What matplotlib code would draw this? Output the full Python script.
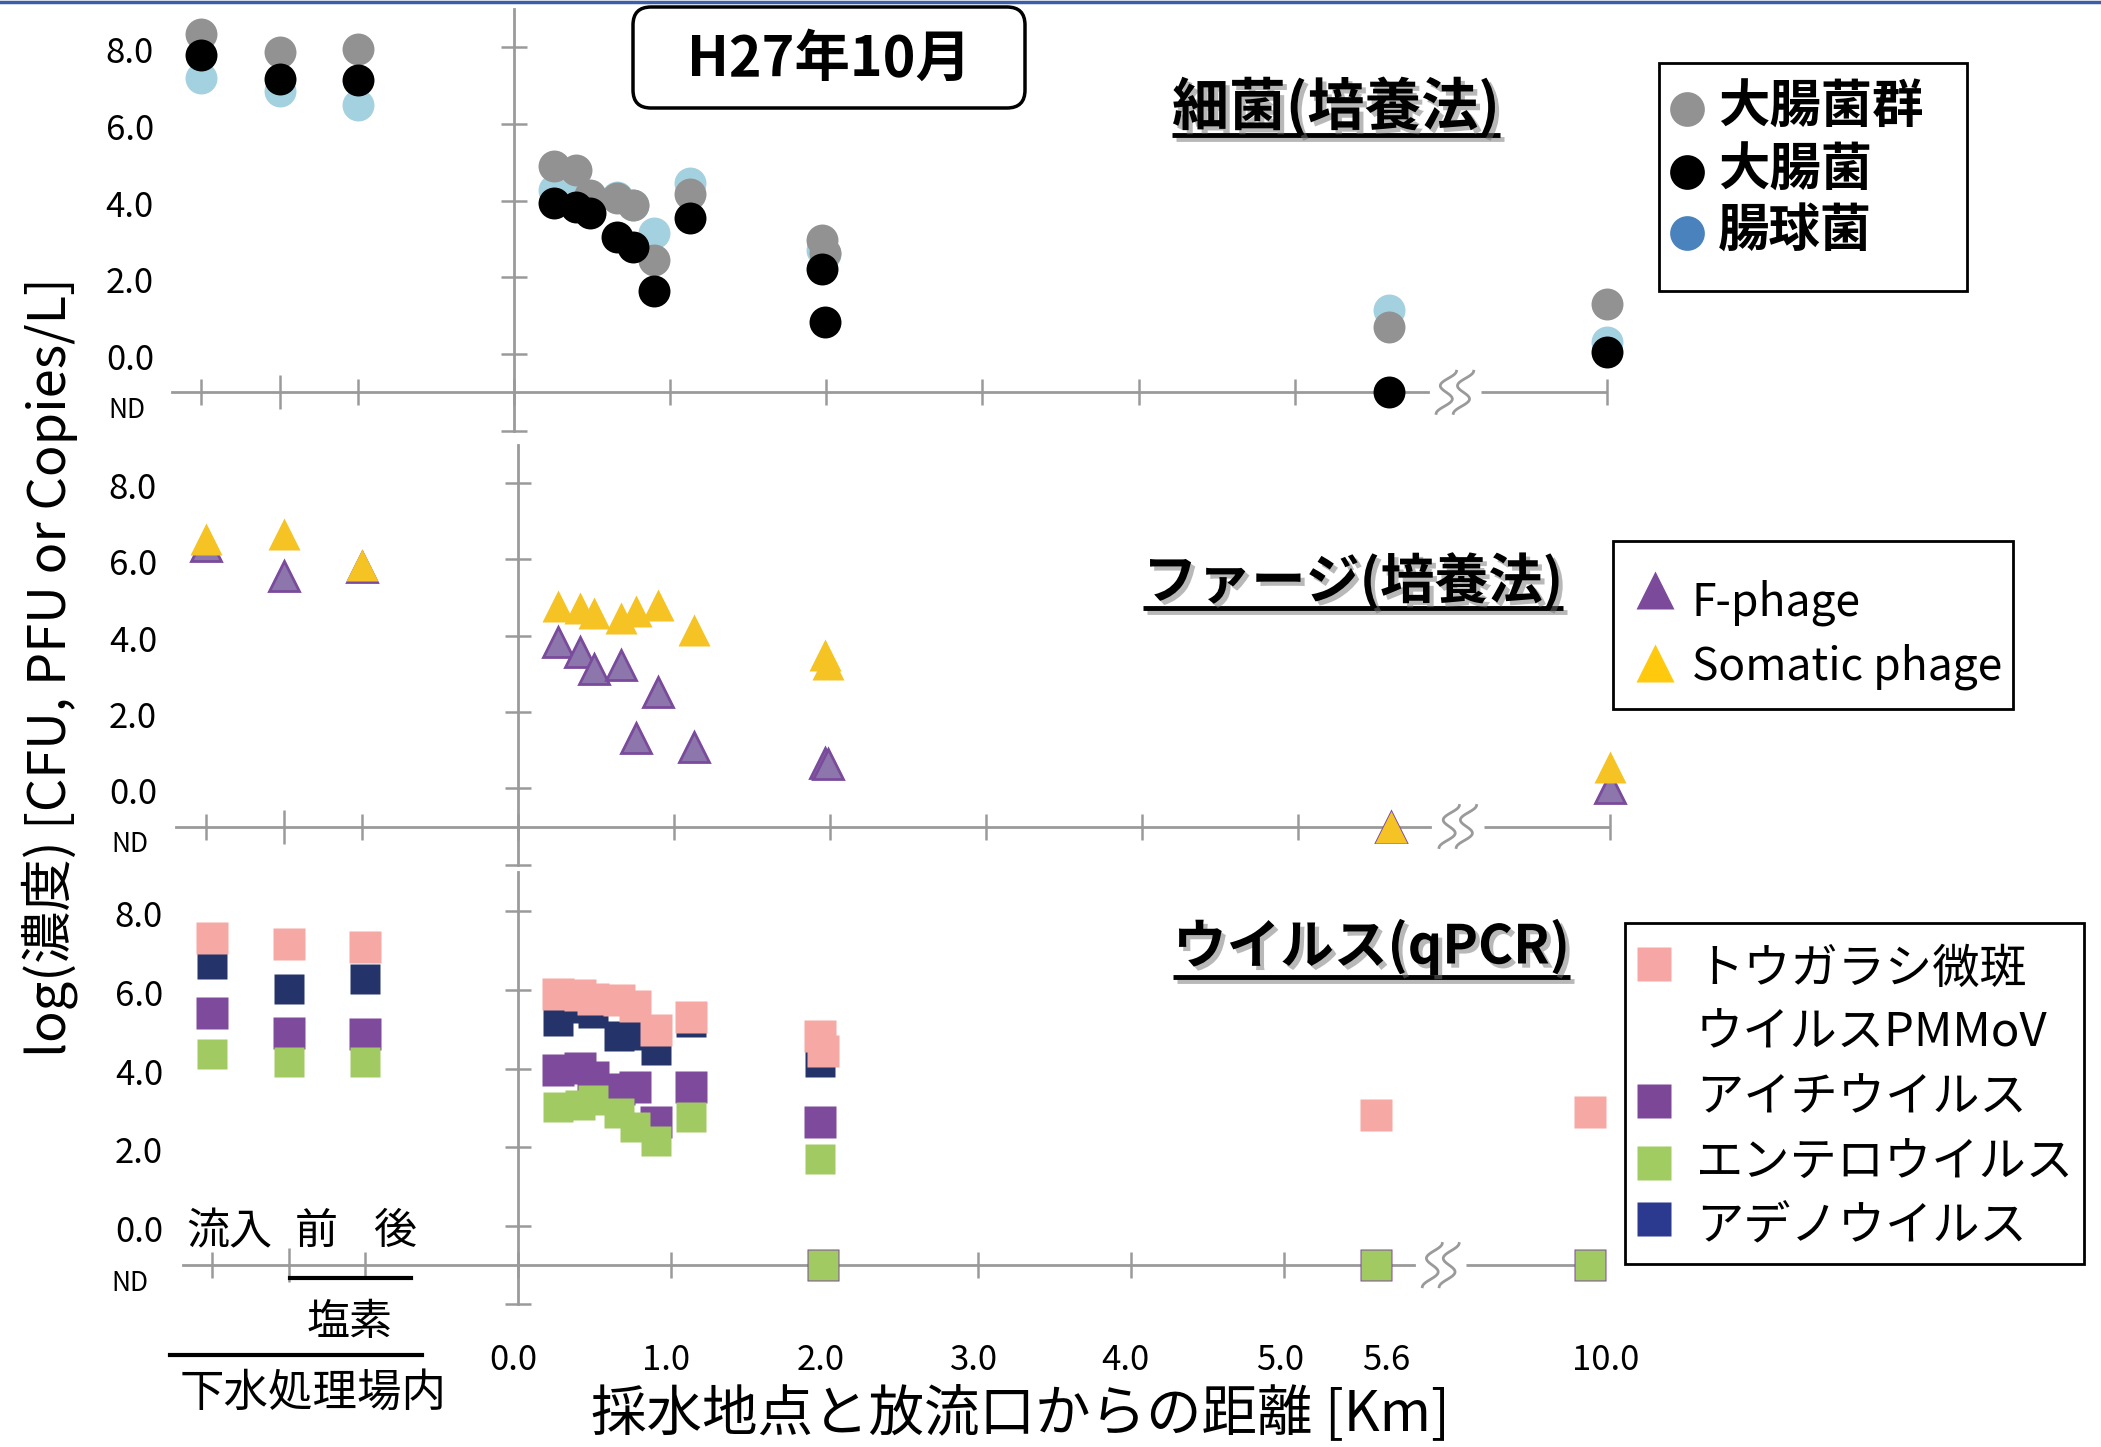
import numpy as np
import matplotlib
matplotlib.use("Agg")
import matplotlib.pyplot as plt
import matplotlib.patheffects as pe
from matplotlib.patches import FancyBboxPatch, Rectangle
from matplotlib.ticker import FixedLocator
from matplotlib.transforms import blended_transform_factory, ScaledTranslation

plt.rcParams["font.family"] = ["Noto Sans CJK JP", "DejaVu Sans"]

ND = "ND"

# ---- data (log10 values) ----
PLANT_LABELS = ["流入", "前", "後"]
SITE_KM = [0.26, 0.40, 0.49, 0.66, 0.76, 0.90, 1.13, 1.97, 1.99, 5.6, 10.0]
X_TICK_KM = [0.0, 1.0, 2.0, 3.0, 4.0, 5.0, 5.6, 10.0]
Y_TICKS = [0, 2, 4, 6, 8]

# bacteria (culture)
COLIFORM_PLANT = [8.34, 7.89, 7.95]
COLIFORM_SITE = [4.90, 4.80, 4.15, 4.06, 3.89, 2.45, 4.17, 2.97, 2.63, 0.70, 1.30]
ECOLI_PLANT = [7.80, 7.18, 7.15]
ECOLI_SITE = [3.95, 3.84, 3.69, 3.06, 2.80, 1.65, 3.56, 2.21, 0.84, ND, 0.04]
ENTEROCOC_PLANT = [7.21, 6.87, 6.49]
ENTEROCOC_SITE = [4.28, 4.30, 4.05, 4.10, 3.90, 3.15, 4.45, 2.71, 2.60, 1.16, 0.32]

# phage (culture)
FPHAGE_PLANT = [6.35, 5.55, 5.80]
FPHAGE_SITE = [3.83, 3.57, 3.12, 3.22, 1.32, 2.52, 1.07, 0.67, 0.63, ND, 0.00]
SOMATIC_PLANT = [6.52, 6.65, 5.84]
SOMATIC_SITE = [4.76, 4.72, 4.59, 4.46, 4.65, 4.81, 4.14, 3.48, 3.26, ND, 0.57]

# virus (qPCR)
PMMOV_PLANT = [7.32, 7.17, 7.10]
PMMOV_SITE = [5.89, 5.88, 5.77, 5.75, 5.60, 4.97, 5.32, 4.82, 4.45, 2.81, 2.90]
AICHI_PLANT = [5.41, 4.91, 4.88]
AICHI_SITE = [3.96, 4.01, 3.78, 3.48, 3.54, 2.65, 3.54, 2.65, ND, ND, ND]
ENTV_PLANT = [4.38, 4.18, 4.18]
ENTV_SITE = [3.03, 3.07, 3.19, 2.86, 2.52, 2.15, 2.77, 1.69, ND, ND, ND]
ADENO_PLANT = [6.65, 6.03, 6.28]
ADENO_SITE = [5.20, 5.55, 5.41, 4.83, 4.85, 4.48, 5.19, 4.18, ND, ND, ND]

# ---- layout ----
W, H = 2101, 1447
PLANT_X = [-2.0, -1.5, -1.0]
ND_Y = -1.0
XLIM = (-2.4, 7.3)
YLIM = (-2.3, 9.2)
AXIS_GRAY = "#9a9a9a"
# small horizontal nudges (px) of the distance labels under the bottom axis
X_LABEL_NUDGE = [-5, -5, -4, -4, -5, -4, 11, 16]


def km_to_x(km):
    # broken axis: linear up to 5.6 km, then a gap up to 10 km
    return np.interp(km, [0.0, 5.6, 10.0], [0.0, 5.6, 7.0])


fig = plt.figure(figsize=(W / 100, H / 100), dpi=100)
fig.patch.set_facecolor("white")


def make_panel(x0, ux, y0, uy):
    left = x0 + XLIM[0] * ux
    right = x0 + XLIM[1] * ux
    top = y0 - YLIM[1] * uy
    bottom = y0 - YLIM[0] * uy
    ax = fig.add_axes([left / W, 1 - bottom / H, (right - left) / W, (bottom - top) / H])
    ax.set_xlim(*XLIM)
    ax.set_ylim(*YLIM)
    ax.patch.set_visible(False)
    ax.spines["top"].set_visible(False)
    ax.spines["right"].set_visible(False)
    ax.spines["left"].set_position(("data", 0))
    ax.spines["left"].set_bounds(-2, 9)
    ax.spines["bottom"].set_position(("data", ND_Y))
    ax.spines["bottom"].set_bounds(-2.19, 5.85)
    for s in ("left", "bottom"):
        ax.spines[s].set_color(AXIS_GRAY)
        ax.spines[s].set_linewidth(2)
    ax.set_yticks([-2] + Y_TICKS)
    ax.set_xticks([-2, -1, 0, 1, 2, 3, 4, 5, 7])
    ax.xaxis.set_minor_locator(FixedLocator([-1.5]))
    ax.tick_params(which="major", direction="inout", length=18.5, width=1.8,
                   color=AXIS_GRAY, labelleft=False, labelbottom=False)
    ax.tick_params(axis="x", which="minor", direction="inout", length=24.5,
                   width=1.8, color=AXIS_GRAY)
    ax.plot([6.19, 7.0], [ND_Y, ND_Y], color=AXIS_GRAY, lw=2,
            solid_capstyle="butt", zorder=2)
    # break mark: two wavy strokes
    t = np.linspace(-1, 1, 60)
    for xc in (5.97, 6.08):
        ax.plot(xc + 0.045 * np.cos(1.5 * np.pi * (1 - t)) + 0.02 * t,
                ND_Y + 0.55 * t, color=AXIS_GRAY, lw=2, zorder=2)
    return ax


def plot_series(ax, plant, site, **style):
    x = PLANT_X + list(km_to_x(SITE_KM))
    y = [ND_Y if v == ND else v for v in plant + site]
    ax.plot(x, y, linestyle="none", zorder=3, **style)


def label_panel(ax, right_px, nd_right_px):
    tr = blended_transform_factory(fig.transFigure, ax.transData)
    tr_num = tr + ScaledTranslation(0, -6.5 / 100, fig.dpi_scale_trans)
    for v in Y_TICKS:
        fig.text(right_px / W, v, f"{v:.1f}", transform=tr_num, ha="right",
                 va="center", fontsize=25)
    fig.text(nd_right_px / W, -1.47, "ND", transform=tr, ha="right",
             va="center", fontsize=19)


ax_b = make_panel(513.8, 156.2, 354.0, 38.33)
ax_p = make_panel(517.9, 156.0, 788.3, 38.2)
ax_v = make_panel(518.3, 153.1, 1225.8, 39.3)

# bacteria
plot_series(ax_b, ENTEROCOC_PLANT, ENTEROCOC_SITE, marker="o", ms=23,
            color="#a3d1df", mec="none")
plot_series(ax_b, COLIFORM_PLANT, COLIFORM_SITE, marker="o", ms=23,
            color="#929292", mec="none")
plot_series(ax_b, ECOLI_PLANT, ECOLI_SITE, marker="o", ms=23,
            color="#000000", mec="none")

# phage
plot_series(ax_p, FPHAGE_PLANT, FPHAGE_SITE, marker="^", ms=22,
            mfc="#8d76ac", mec="#7a4b9c", mew=2)
plot_series(ax_p, SOMATIC_PLANT, SOMATIC_SITE, marker="^", ms=23,
            color="#f6c325", mec="none")

# virus
plot_series(ax_v, ADENO_PLANT, ADENO_SITE, marker="s", ms=21,
            color="#24346a", mec="none")
plot_series(ax_v, PMMOV_PLANT, PMMOV_SITE, marker="s", ms=23,
            color="#f6a8a4", mec="none")
plot_series(ax_v, AICHI_PLANT, AICHI_SITE, marker="s", ms=23,
            color="#7e4a9b", mec="none")
plot_series(ax_v, ENTV_PLANT, ENTV_SITE, marker="s", ms=21,
            color="#a1cb62", mec="none")

label_panel(ax_b, 154, 145)
label_panel(ax_p, 157, 148)
label_panel(ax_v, 163, 148)

tr_x = blended_transform_factory(ax_v.transData, fig.transFigure)
for km, dx in zip(X_TICK_KM, X_LABEL_NUDGE):
    fig.text(km_to_x(km), 1 - 1360 / H, f"{km:.1f}",
             transform=tr_x + ScaledTranslation(dx / 100, 0, fig.dpi_scale_trans),
             ha="center", va="center", fontsize=25)

# ---- overlay in pixel coordinates for annotations ----
ov = fig.add_axes([0, 0, 1, 1])
ov.set_xlim(0, W)
ov.set_ylim(H, 0)
ov.axis("off")

ov.plot([0, W], [1.5, 1.5], color="#3c5da8", lw=2.5)

ov.text(50, 667, "log(濃度) [CFU, PFU or Copies/L]", rotation=90,
        fontsize=37.7, ha="center", va="center")
ov.text(1020, 1414, "採水地点と放流口からの距離 [Km]", fontsize=40,
        ha="center", va="center")

for lab, xc in zip(PLANT_LABELS, (229, 316, 395)):
    ov.text(xc, 1232, lab, fontsize=31, ha="center", va="center")
ov.plot([290, 411], [1277.5, 1277.5], color="black", lw=3)
ov.text(350, 1323, "塩素", fontsize=31, ha="center", va="center")
ov.plot([170, 422], [1355, 1355], color="black", lw=3)
ov.text(313, 1393, "下水処理場内", fontsize=32, ha="center", va="center")

# date box
ov.add_patch(FancyBboxPatch((633, 7), 392, 101,
                            boxstyle="round,pad=0,rounding_size=18",
                            fc="white", ec="black", lw=2.5))
ov.text(829, 60, "H27年10月", fontsize=40, weight="bold",
        ha="center", va="center")

# section titles with underline and shadow
shadow_t = [pe.SimplePatchShadow(offset=(3, -3), shadow_rgbFace="0.45", alpha=0.5),
            pe.Normal()]
shadow_l = [pe.SimpleLineShadow(offset=(3, -3), shadow_color="0.45", alpha=0.5),
            pe.Normal()]
sections = [("細菌(培養法)", 1172, 107, 135, 41),
            ("ファージ(培養法)", 1143, 582, 608, 39),
            ("ウイルス(qPCR)", 1173, 947, 977, 38.6)]
title_texts = []
for txt, x, y, _, fs in sections:
    title_texts.append(ov.text(x, y, txt, fontsize=fs, weight="bold",
                               ha="left", va="center", path_effects=shadow_t))
fig.canvas.draw()
inv = ov.transData.inverted()
for t, (_, x, _, yl, _) in zip(title_texts, sections):
    bb = t.get_window_extent()
    (xa, _), (xb, _) = inv.transform([[bb.x0, bb.y0], [bb.x1, bb.y1]])
    ov.plot([xa, xb], [yl, yl], color="black", lw=3.5,
            solid_capstyle="butt", path_effects=shadow_l)

# legend: bacteria
ov.add_patch(Rectangle((1659, 63), 308, 228, fill=False, ec="black", lw=2))
for lab, col, y in (("大腸菌群", "#929292", 109), ("大腸菌", "#000000", 172),
                    ("腸球菌", "#4a82bd", 233)):
    ov.plot([1687], [y], marker="o", ms=25, color=col, mec="none")
    ov.text(1718, y - 2, lab, fontsize=37, weight="bold", ha="left", va="center")

# legend: phage
ov.add_patch(Rectangle((1613, 541), 400, 168, fill=False, ec="black", lw=2))
for lab, col, y, yb in (("F-phage", "#7b4a9b", 590, 615),
                        ("Somatic phage", "#ffc90e", 663, 680)):
    ov.plot([1655], [y], marker="^", ms=28, color=col, mec="none")
    ov.text(1692, yb, lab, fontsize=32, ha="left", va="baseline")

# legend: virus
ov.add_patch(Rectangle((1625, 923), 459, 341, fill=False, ec="black", lw=2))
for col, y in (("#f6a7a5", 964), ("#7d4798", 1101), ("#a1cc62", 1163),
               ("#2b3a8f", 1219)):
    ov.plot([1654], [y], marker="s", ms=24.5, color=col, mec="none")
for lab, y in (("トウガラシ微斑", 970), ("ウイルスPMMoV", 1033),
               ("アイチウイルス", 1098), ("エンテロウイルス", 1164),
               ("アデノウイルス", 1227)):
    ov.text(1696, y, lab, fontsize=34, ha="left", va="center")

fig.savefig("out.png", dpi=100)
